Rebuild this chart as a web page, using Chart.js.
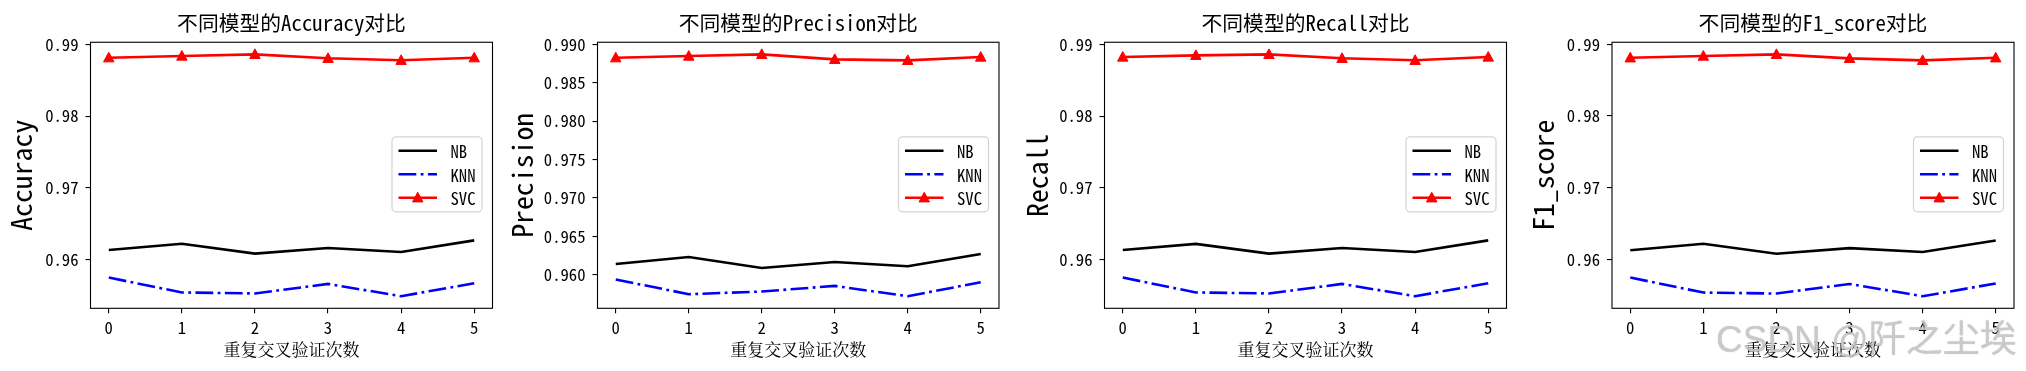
<!DOCTYPE html>
<html>
<head>
<meta charset="utf-8">
<script src="https://cdn.jsdelivr.net/npm/chart.js@4.4.1/dist/chart.umd.min.js"></script>
<style>
  html, body { margin: 0; padding: 0; background: #fff; width: 2026px; height: 371px; overflow: hidden; }
  canvas { position: absolute; top: 0; }
  #wm {
    position: absolute; left: 1716px; top: 309px; white-space: nowrap;
    font: 37px "Liberation Sans", "Noto Sans CJK SC", sans-serif;
    color: rgba(205, 205, 205, 0.75);
    text-shadow: 0 0 1px rgba(140, 140, 140, 0.6);
  }
</style>
</head>
<body>
<canvas id="c0" width="506" height="371" style="left:0px"></canvas>
<canvas id="c1" width="507" height="371" style="left:506px"></canvas>
<canvas id="c2" width="506" height="371" style="left:1013px"></canvas>
<canvas id="c3" width="507" height="371" style="left:1519px"></canvas>
<div id="wm">CSDN @阡之尘埃</div>
<script>
// x axis: repeated cross-validation runs
const runs = [0, 1, 2, 3, 4, 5];
const modelNames = ['NB', 'KNN', 'SVC'];
const metricNames = ['Accuracy', 'Precision', 'Recall', 'F1_score'];

// values
const accNB  = [0.96133, 0.96222, 0.96083, 0.96161, 0.96106, 0.96268];
const accKNN = [0.95750, 0.95542, 0.95528, 0.95661, 0.95490, 0.95671];
const accSVC = [0.98814, 0.98838, 0.98861, 0.98806, 0.98778, 0.98814];

const preNB  = [0.96138, 0.96229, 0.96086, 0.96164, 0.96108, 0.96268];
const preKNN = [0.95935, 0.95744, 0.95779, 0.95852, 0.95718, 0.95900];
const preSVC = [0.98826, 0.98848, 0.98870, 0.98805, 0.98792, 0.98835];

const recNB  = [0.96133, 0.96219, 0.96083, 0.96161, 0.96106, 0.96268];
const recKNN = [0.95750, 0.95542, 0.95528, 0.95661, 0.95490, 0.95671];
const recSVC = [0.98824, 0.98847, 0.98861, 0.98806, 0.98778, 0.98824];

const f1NB   = [0.96128, 0.96218, 0.96079, 0.96157, 0.96102, 0.96264];
const f1KNN  = [0.95746, 0.95537, 0.95523, 0.95657, 0.95486, 0.95664];
const f1SVC  = [0.98812, 0.98836, 0.98860, 0.98804, 0.98776, 0.98812];

// tick labels
const xTicks = [0, 1, 2, 3, 4, 5];
const yTicksWide = [0.96, 0.97, 0.98, 0.99];
const yTicksFine = [0.960, 0.965, 0.970, 0.975, 0.980, 0.985, 0.990];

const CJK = '"Noto Sans Mono CJK SC", "Noto Sans CJK SC", sans-serif';
Chart.defaults.font.family = CJK;
Chart.defaults.color = '#000';

// where each axes box sits inside its canvas
const frames = [
  { id: 'c0', plotL: 90.5, padR: 13.5, ylabPad: 5 },
  { id: 'c1', plotL: 91.5, padR: 14,   ylabPad: 0 },
  { id: 'c2', plotL: 91.5, padR: 12.5, ylabPad: 8 },
  { id: 'c3', plotL: 93,   padR: 12,   ylabPad: 8 },
];
const panelData = [
  [accNB, accKNN, accSVC, yTicksWide, 2],
  [preNB, preKNN, preSVC, yTicksFine, 3],
  [recNB, recKNN, recSVC, yTicksWide, 2],
  [f1NB,  f1KNN,  f1SVC,  yTicksWide, 2],
];

const spines = {
  id: 'spines',
  afterDatasetsDraw(chart) {
    const { ctx, chartArea: a } = chart;
    ctx.save();
    ctx.strokeStyle = '#000';
    ctx.lineWidth = 1.1;
    ctx.strokeRect(a.left, a.top, a.right - a.left, a.bottom - a.top);
    ctx.restore();
  }
};

function triangle(ctx, x, y, r, color) {
  ctx.beginPath();
  ctx.moveTo(x, y - r);
  ctx.lineTo(x - r * 0.95, y + r * 0.75);
  ctx.lineTo(x + r * 0.95, y + r * 0.75);
  ctx.closePath();
  ctx.fillStyle = color;
  ctx.fill();
  ctx.strokeStyle = color;
  ctx.lineWidth = 1;
  ctx.stroke();
}

const boxLegend = {
  id: 'boxLegend',
  afterDraw(chart) {
    const { ctx, chartArea: a } = chart;
    const w = 90, h = 75;
    const x = a.right - 10.5 - w;
    const y = (a.top + a.bottom) / 2 - h / 2 - 1;
    ctx.save();
    ctx.beginPath();
    ctx.roundRect(x, y, w, h, 4);
    ctx.fillStyle = 'rgba(255,255,255,0.8)';
    ctx.fill();
    ctx.strokeStyle = '#d4d4d4';
    ctx.lineWidth = 1.2;
    ctx.stroke();
    chart.data.datasets.forEach((ds, i) => {
      const yy = y + 14 + i * 23.5;
      ctx.beginPath();
      ctx.setLineDash(ds.borderDash || []);
      ctx.moveTo(x + 6.5, yy);
      ctx.lineTo(x + 45, yy);
      ctx.strokeStyle = ds.borderColor;
      ctx.lineWidth = ds.borderWidth;
      ctx.stroke();
      ctx.setLineDash([]);
      if (ds.triangles) triangle(ctx, x + 25.75, yy, 5.5, ds.borderColor);
      ctx.fillStyle = '#000';
      ctx.font = '16.7px ' + CJK;
      ctx.textBaseline = 'middle';
      ctx.textAlign = 'left';
      ctx.fillText(ds.label, x + 58.5, yy + 1);
    });
    ctx.restore();
  }
};

const markers = {
  id: 'markers',
  afterDatasetsDraw(chart) {
    const { ctx } = chart;
    ctx.save();
    chart.data.datasets.forEach((ds, i) => {
      if (!ds.triangles) return;
      chart.getDatasetMeta(i).data.forEach(pt => triangle(ctx, pt.x, pt.y, 5.5, ds.borderColor));
    });
    ctx.restore();
  }
};

frames.forEach((f, k) => {
  const [nb, knn, svc, yTicks, dec] = panelData[k];
  const all = nb.concat(knn, svc);
  const lo = Math.min(...all), hi = Math.max(...all);
  const m = (hi - lo) * 0.05;
  const pts = vals => runs.map((r, i) => ({ x: r, y: vals[i] }));
  const canvas = document.getElementById(f.id);

  new Chart(canvas, {
    type: 'line',
    data: {
      datasets: [
        { label: modelNames[0], data: pts(nb), borderColor: '#000000', borderWidth: 2.6, pointRadius: 0 },
        { label: modelNames[1], data: pts(knn), borderColor: '#0000ff', borderWidth: 2.6, pointRadius: 0,
          borderDash: [17.8, 4.4, 2.8, 4.4] },
        { label: modelNames[2], data: pts(svc), borderColor: '#ff0000', borderWidth: 2.6, pointRadius: 0,
          triangles: true },
      ]
    },
    options: {
      responsive: false,
      animation: false,
      devicePixelRatio: 1,
      layout: { padding: { left: 0, right: f.padR, top: 0, bottom: 0 } },
      elements: { line: { tension: 0 }, point: { radius: 0, hoverRadius: 0 } },
      plugins: {
        legend: { display: false },
        tooltip: { enabled: false },
        title: {
          display: true,
          fullSize: false,
          text: '不同模型的' + metricNames[k] + '对比',
          font: { size: 20.8, weight: 'normal', lineHeight: 1.2 },
          color: '#000',
          padding: { top: 11, bottom: 6.3 }
        }
      },
      scales: {
        x: {
          type: 'linear',
          min: -0.25,
          max: 5.25,
          afterBuildTicks: s => { s.ticks = xTicks.map(v => ({ value: v })); },
          afterFit: s => { s.height = 62.7; },
          ticks: { font: { size: 16.7 }, padding: 4, maxRotation: 0, callback: v => String(v) },
          grid: { drawOnChartArea: false, drawTicks: true, tickLength: 5, color: '#000', lineWidth: 1.1 },
          border: { display: false },
          title: {
            display: true,
            text: '重复交叉验证次数',
            font: { size: 17, family: '"Noto Serif CJK SC", ' + CJK, lineHeight: 1.2 },
            padding: { top: 0, bottom: 11 }
          }
        },
        y: {
          type: 'linear',
          min: lo - m,
          max: hi + m,
          afterBuildTicks: s => { s.ticks = yTicks.map(v => ({ value: v })); },
          afterFit: s => { s.width = f.plotL; },
          ticks: { font: { size: 16.7 }, padding: 7, callback: v => v.toFixed(dec) },
          grid: { drawOnChartArea: false, drawTicks: true, tickLength: 5, color: '#000', lineWidth: 1.1 },
          border: { display: false },
          title: {
            display: true,
            text: metricNames[k],
            font: { size: 27.8, lineHeight: 1.2 },
            padding: { top: f.ylabPad, bottom: 0 }
          }
        }
      }
    },
    plugins: [markers, spines, boxLegend]
  });
});
</script>
</body>
</html>
